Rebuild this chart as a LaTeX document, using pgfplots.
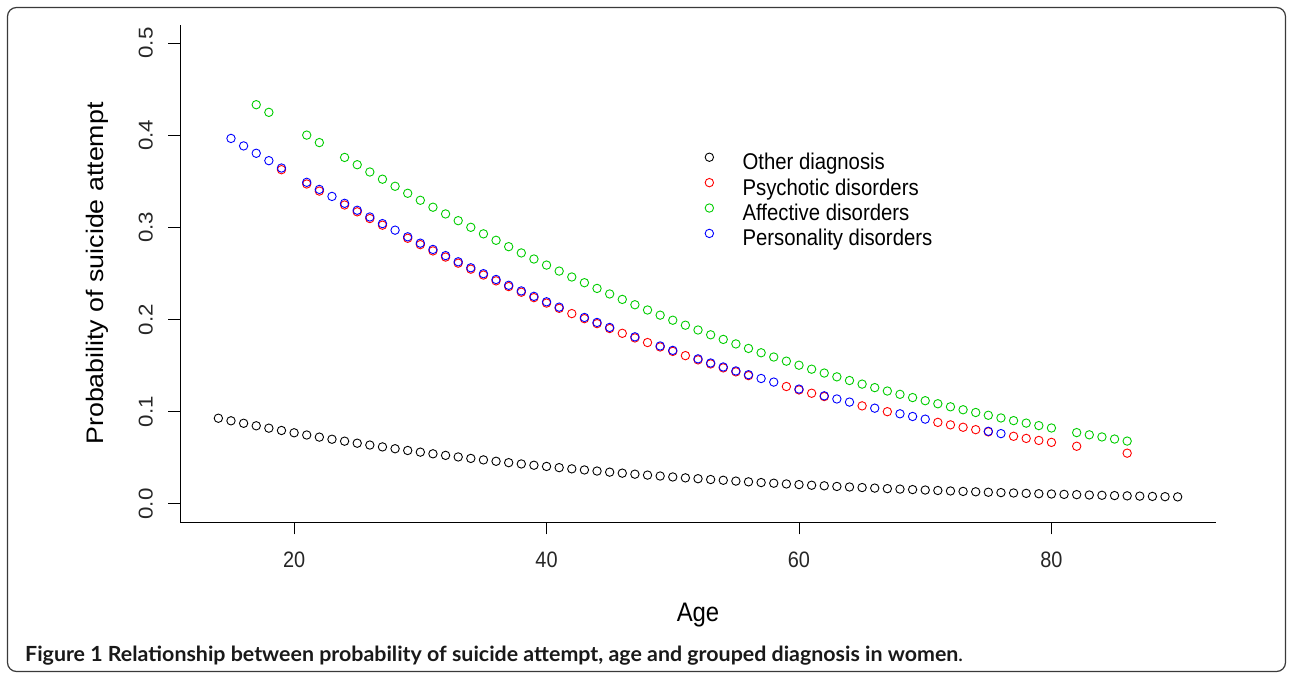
\documentclass[border=0pt]{standalone}
\usepackage{pgfplots}
\pgfplotsset{compat=1.18}
\usepackage{fontspec}
\setmainfont{Liberation Sans}
\newfontfamily\capfont{Lato}
\usepackage{graphicx}
\newcommand\vs[1]{\scalebox{1}[1.12]{#1}}
\newcommand\hs[1]{\scalebox{1.12}[1]{#1}}
\definecolor{rgreen}{HTML}{00CD00}
\definecolor{rred}{HTML}{FF0000}
\definecolor{rblue}{HTML}{0000FF}
\definecolor{framec}{HTML}{3A3A3A}
\begin{document}
\begin{tikzpicture}[x=1bp,y=1bp]
\useasboundingbox (0,0) rectangle (1289,674);
\draw[framec, line width=1.2bp, rounded corners=9bp] (7.5,2.5) rectangle (1285.5,666.5);
\begin{axis}[
  at={(180bp,151.6bp)}, anchor=south west,
  scale only axis, width=1036bp, height=497.8bp,
  xmin=10.96, xmax=93.04, ymin=-0.02, ymax=0.52,
  axis x line*=bottom, axis y line*=left,
  axis line style={-, line width=1bp, black},
  xtick={20,40,60,80}, xticklabels={\vs{20},\vs{40},\vs{60},\vs{80}},
  ytick={0,0.1,0.2,0.3,0.4,0.5},
  yticklabels={\hs{0.0},\hs{0.1},\hs{0.2},\hs{0.3},\hs{0.4},\hs{0.5}},
  tick align=outside, major tick length=12bp,
  tick style={black, line width=1bp},
  minor tick num=0,
  ticklabel style={font=\fontsize{20}{20}\selectfont, text=black!85},
  xticklabel style={anchor=north, inner sep=0pt},
  yticklabel style={rotate=90, anchor=south, inner sep=0pt},
  xticklabel shift=17bp, yticklabel shift=15bp,
  xlabel={\vs{Age}}, ylabel={\hs{Probability of suicide attempt}},
  label style={font=\fontsize{24}{24}\selectfont},
  xlabel style={at={(axis description cs:0.5,-0.186)}, anchor=center},
  ylabel style={at={(axis description cs:-0.080,0.5)}, anchor=center},
  legend style={at={(0.5067,0.745)}, anchor=north west, draw=none, fill=none,
    inner sep=0pt, row sep=0.4bp, font=\fontsize{20.4}{20.4}\selectfont,
    nodes={text height=16bp, text depth=5bp, inner sep=2bp},
    /tikz/every odd column/.append style={column sep=27bp}},
  legend cell align=left,
  legend image code/.code={\draw[mark repeat=2,mark phase=2,#1] plot coordinates {(0bp,7bp)(9bp,7bp)(18bp,7bp)};},
  every axis plot/.append style={only marks, mark=o, mark size=4.2bp, line width=0.9bp},
  clip=false,
]
\addplot[black] coordinates {
(14,0.0930)(15,0.0902)(16,0.0875)(17,0.0848)(18,0.0822)(19,0.0797)(20,0.0772)(21,0.0748)(22,0.0725)(23,0.0702)(24,0.0681)(25,0.0659)(26,0.0639)(27,0.0619)(28,0.0599)(29,0.0580)(30,0.0562)(31,0.0544)(32,0.0527)(33,0.0510)(34,0.0494)(35,0.0478)(36,0.0463)(37,0.0448)(38,0.0434)(39,0.0420)(40,0.0407)(41,0.0394)(42,0.0381)(43,0.0369)(44,0.0357)(45,0.0345)(46,0.0334)(47,0.0323)(48,0.0313)(49,0.0303)(50,0.0293)(51,0.0283)(52,0.0274)(53,0.0265)(54,0.0257)(55,0.0248)(56,0.0240)(57,0.0232)(58,0.0225)(59,0.0217)(60,0.0210)(61,0.0203)(62,0.0197)(63,0.0190)(64,0.0184)(65,0.0178)(66,0.0172)(67,0.0166)(68,0.0161)(69,0.0156)(70,0.0151)(71,0.0146)(72,0.0141)(73,0.0136)(74,0.0132)(75,0.0127)(76,0.0123)(77,0.0119)(78,0.0115)(79,0.0111)(80,0.0108)(81,0.0104)(82,0.0101)(83,0.0097)(84,0.0094)(85,0.0091)(86,0.0088)(87,0.0085)(88,0.0082)(89,0.0079)(90,0.0077)
};
\addlegendentry{\vs{Other diagnosis}}
\addplot[rred] coordinates {
(19,0.3626)(21,0.3471)(22,0.3394)(24,0.3243)(25,0.3169)(26,0.3096)(27,0.3024)(29,0.2882)(30,0.2813)(31,0.2745)(32,0.2678)(33,0.2612)(34,0.2547)(35,0.2483)(36,0.2420)(37,0.2358)(38,0.2297)(39,0.2238)(40,0.2179)(41,0.2122)(42,0.2065)(43,0.2010)(44,0.1956)(45,0.1903)(46,0.1851)(47,0.1801)(48,0.1751)(49,0.1703)(50,0.1655)(51,0.1609)(52,0.1563)(53,0.1519)(54,0.1476)(55,0.1433)(56,0.1392)(59,0.1274)(60,0.1237)(61,0.1201)(62,0.1165)(65,0.1064)(67,0.1001)(71,0.0885)(72,0.0858)(73,0.0832)(74,0.0806)(75,0.0782)(77,0.0734)(78,0.0711)(79,0.0689)(80,0.0668)(82,0.0626)(86,0.0551)
};
\addlegendentry{\vs{Psychotic disorders}}
\addplot[rgreen] coordinates {
(17,0.4331)(18,0.4248)(21,0.4001)(22,0.3920)(24,0.3759)(25,0.3680)(26,0.3601)(27,0.3523)(28,0.3446)(29,0.3370)(30,0.3294)(31,0.3219)(32,0.3146)(33,0.3073)(34,0.3001)(35,0.2930)(36,0.2860)(37,0.2791)(38,0.2723)(39,0.2657)(40,0.2591)(41,0.2526)(42,0.2462)(43,0.2400)(44,0.2338)(45,0.2278)(46,0.2219)(47,0.2161)(48,0.2104)(49,0.2048)(50,0.1993)(51,0.1939)(52,0.1887)(53,0.1835)(54,0.1785)(55,0.1736)(56,0.1687)(57,0.1640)(58,0.1594)(59,0.1549)(60,0.1505)(61,0.1462)(62,0.1420)(63,0.1379)(64,0.1339)(65,0.1300)(66,0.1262)(67,0.1225)(68,0.1189)(69,0.1154)(70,0.1120)(71,0.1087)(72,0.1054)(73,0.1022)(74,0.0992)(75,0.0962)(76,0.0933)(77,0.0904)(78,0.0877)(79,0.0850)(80,0.0824)(82,0.0774)(83,0.0750)(84,0.0727)(85,0.0704)(86,0.0682)
};
\addlegendentry{\vs{Affective disorders}}
\addplot[rblue] coordinates {
(15,0.3965)(16,0.3884)(17,0.3804)(18,0.3724)(19,0.3644)(21,0.3489)(22,0.3412)(23,0.3336)(24,0.3261)(25,0.3186)(26,0.3113)(27,0.3041)(28,0.2970)(29,0.2898)(30,0.2829)(31,0.2761)(32,0.2694)(33,0.2627)(34,0.2562)(35,0.2498)(36,0.2435)(37,0.2372)(38,0.2311)(39,0.2252)(40,0.2193)(41,0.2135)(43,0.2023)(44,0.1969)(45,0.1915)(47,0.1813)(49,0.1714)(50,0.1666)(52,0.1574)(53,0.1529)(54,0.1486)(55,0.1443)(56,0.1402)(57,0.1361)(58,0.1322)(60,0.1246)(62,0.1173)(63,0.1139)(64,0.1105)(66,0.1039)(68,0.0978)(69,0.0949)(70,0.0920)(75,0.0788)(76,0.0763)
};
\addlegendentry{\vs{Personality disorders}}
\end{axis}
\node[anchor=base west, inner sep=0pt, text=black!90] at (25,12.3) {\resizebox{938bp}{15.5bp}{\capfont\bfseries Figure 1 Relationship between probability of suicide attempt, age and grouped diagnosis in women\mdseries.}};
\end{tikzpicture}
\end{document}
